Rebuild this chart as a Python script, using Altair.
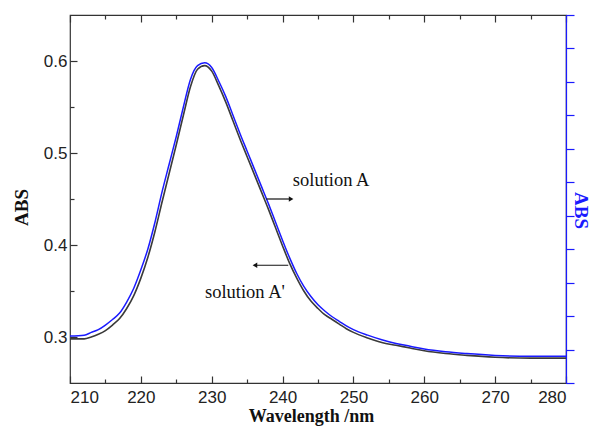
import altair as alt
import pandas as pd

# ---- data ----
WL_BLUE = [210, 212, 213, 214, 215, 216, 217, 218, 219, 220, 221, 222, 223, 224, 225, 226, 227, 228, 229,
           230, 231, 232, 233, 234, 235, 236, 237, 238, 239, 240, 241, 242, 243, 244, 245, 246, 247, 248,
           249, 250, 252, 254, 256, 258, 260, 263, 266, 270, 275, 280]
ABS_BLUE = [0.301, 0.302, 0.305, 0.308, 0.313, 0.319, 0.326, 0.338, 0.353, 0.373, 0.396, 0.425, 0.458,
            0.488, 0.518, 0.550, 0.580, 0.595, 0.598, 0.593, 0.578, 0.561, 0.541, 0.521, 0.502, 0.483,
            0.464, 0.445, 0.425, 0.405, 0.386, 0.369, 0.355, 0.344, 0.335, 0.328, 0.322, 0.317, 0.312,
            0.308, 0.302, 0.297, 0.293, 0.290, 0.287, 0.284, 0.282, 0.280, 0.279, 0.279]
WL_BLACK = WL_BLUE
ABS_BLACK = [0.298, 0.298, 0.300, 0.303, 0.307, 0.313, 0.320, 0.331, 0.345, 0.364, 0.387, 0.415, 0.447,
             0.478, 0.509, 0.541, 0.572, 0.591, 0.595, 0.589, 0.573, 0.555, 0.535, 0.515, 0.496, 0.477,
             0.458, 0.439, 0.419, 0.399, 0.380, 0.364, 0.350, 0.339, 0.331, 0.324, 0.319, 0.314, 0.309,
             0.305, 0.299, 0.294, 0.291, 0.288, 0.285, 0.282, 0.280, 0.278, 0.277, 0.277]

LABELS = ["solution A", "solution A'"]
LABEL_X = [241.45, 229.05]
LABEL_Y = [0.4645, 0.3424]
ARROW_X1 = [237.7, 240.8]
ARROW_X2 = [241.2, 236.3]
ARROW_Y = [0.450, 0.378]
HEAD_X = [241.2, 236.1]
HEAD_SHAPE = ["triangle-right", "triangle-left"]

X_MAJOR = [210, 220, 230, 240, 250, 260, 270, 280]
X_MINOR = [215, 225, 235, 245, 255, 265, 275]
Y_MAJOR = [0.3, 0.4, 0.5, 0.6]
Y_MINOR = [0.35, 0.45, 0.55]
R_TICKS = [0.25 + i * 0.4 / 11 for i in range(12)]

X_DOMAIN = [210, 280]
Y_DOMAIN = [0.25, 0.65]

blue = pd.DataFrame({"wl": WL_BLUE, "abs": ABS_BLUE})
black = pd.DataFrame({"wl": WL_BLACK, "abs": ABS_BLACK})
labels = pd.DataFrame({"label": LABELS, "x": LABEL_X, "y": LABEL_Y})
arrows = pd.DataFrame({"x1": ARROW_X1, "x2": ARROW_X2, "y": ARROW_Y, "hx": HEAD_X, "shape": HEAD_SHAPE})

xs = alt.Scale(domain=X_DOMAIN, nice=False, zero=False)
ys = alt.Scale(domain=Y_DOMAIN, nice=False, zero=False)

SERIF = "Liberation Serif"
SANS = "Liberation Sans"

# axes
x_main = alt.Axis(orient="bottom", values=X_MAJOR, offset=-7, tickSize=7, domain=False,
                  labelPadding=6, title="Wavelength /nm", titlePadding=2, titleX=241,
                  titleFontSize=18)
y_main = alt.Axis(orient="left", values=Y_MAJOR, offset=-7, tickSize=7, domain=False, format=".1f",
                  labelPadding=3, title="ABS", titlePadding=12, titleY=192)
x_minor = alt.Axis(orient="bottom", values=X_MINOR, offset=-4, tickSize=4, domain=False,
                   labels=False, title=None)
y_minor = alt.Axis(orient="left", values=Y_MINOR, offset=-4, tickSize=4, domain=False,
                   labels=False, title=None)
x_top = alt.Axis(orient="top", values=X_MAJOR, offset=-7, tickSize=7, domain=False,
                 labels=False, title=None)
x_top_minor = alt.Axis(orient="top", values=X_MINOR, offset=-4, tickSize=4, domain=False,
                       labels=False, title=None)
y_right = alt.Axis(orient="right", values=R_TICKS, tickSize=8, domain=True, domainColor="#1a1aff",
                   tickColor="#1a1aff", labels=False, title="ABS", titleColor="#1a1aff",
                   titleX=14, titleBaseline="middle", titleAngle=90, titleY=195, domainWidth=1.2)

black_line = alt.Chart(black).mark_line(color="#3a3a3a", strokeWidth=1.6, interpolate="monotone").encode(
    x=alt.X("wl:Q", scale=xs, axis=x_main),
    y=alt.Y("abs:Q", scale=ys, axis=y_main),
)
blue_line = alt.Chart(blue).mark_line(color="#1a1aff", strokeWidth=1.5, interpolate="monotone").encode(
    x=alt.X("wl:Q", scale=xs, axis=x_minor),
    y=alt.Y("abs:Q", scale=ys, axis=y_minor),
)
arrow_lines = alt.Chart(arrows).mark_rule(color="#111", strokeWidth=1.2).encode(
    x=alt.X("x1:Q", scale=xs, axis=x_top),
    x2="x2:Q",
    y=alt.Y("y:Q", scale=ys, axis=y_right),
)
heads = alt.Chart(arrows).mark_point(filled=True, color="#111", size=28, opacity=1).encode(
    x=alt.X("hx:Q", scale=xs, axis=x_top_minor),
    y=alt.Y("y:Q", scale=ys, axis=None),
    shape=alt.Shape("shape:N", scale=None, legend=None),
)
texts = alt.Chart(labels).mark_text(font=SERIF, fontSize=18.5, align="left", baseline="alphabetic",
                                    color="#111").encode(
    x=alt.X("x:Q", scale=xs, axis=None),
    y=alt.Y("y:Q", scale=ys, axis=None),
    text="label:N",
)

chart = alt.layer(black_line, blue_line, arrow_lines, heads, texts).resolve_axis(
    x="independent", y="independent"
).properties(
    width=496, height=368,
    autosize=alt.AutoSizeParams(type="none"),
    padding={"left": 62, "top": 7, "right": 24, "bottom": 44},
).configure_view(
    stroke="#333", strokeWidth=1.2
).configure_axis(
    grid=False, labelFont=SANS, labelFontSize=17, labelColor="#222", tickColor="#333",
    tickWidth=1.2, titleFont=SERIF, titleFontSize=19, titleFontWeight="bold", titleColor="#111",
)

chart.save("out.html", embed_options={"renderer": "svg", "actions": False})
